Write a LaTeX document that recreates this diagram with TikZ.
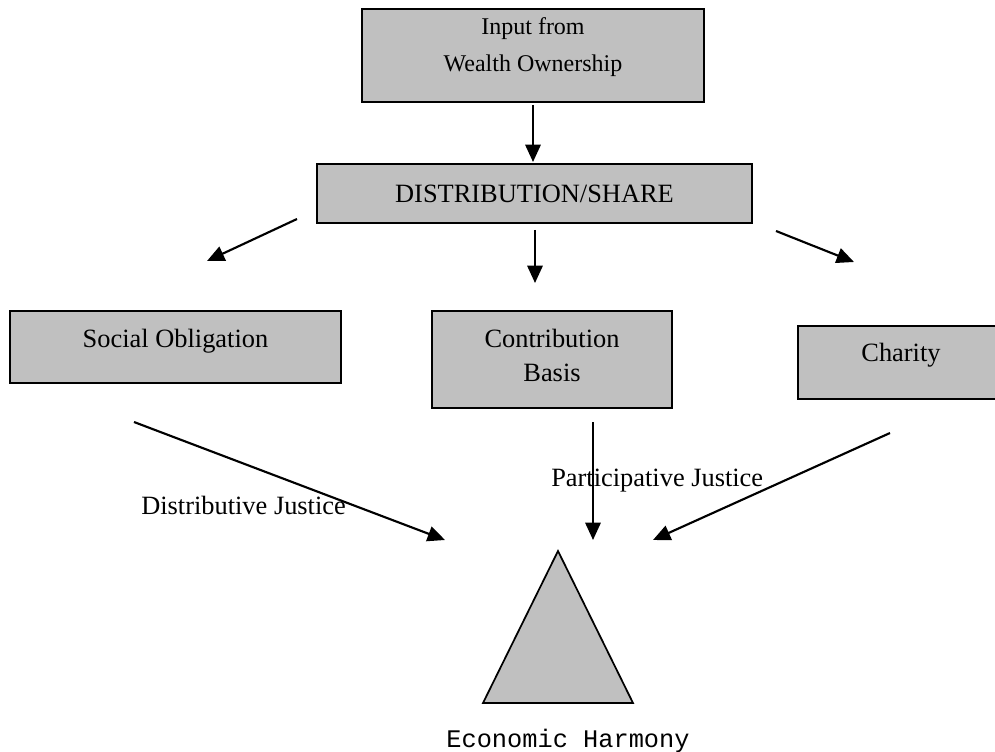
\documentclass[tikz,border=0pt]{standalone}
\usepackage{fontspec}
\setmainfont{Liberation Serif}
\newfontfamily\harmonyfont{Liberation Mono}
\usetikzlibrary{arrows.meta}
\definecolor{boxgray}{RGB}{192,192,192}
\newcommand\mainsz{\fontsize{19.8pt}{25.5pt}\selectfont}
\newcommand\topsz{\fontsize{18pt}{27.75pt}\selectfont}
\newcommand\harmsz{\harmonyfont\fontsize{19pt}{22pt}\selectfont}
\begin{document}
\begin{tikzpicture}[x=0.75pt,y=-0.75pt,
  box/.style={draw=black, line width=1.5pt, fill=boxgray, inner sep=0pt,
    font=\mainsz, align=center},
  arr/.style={-{Triangle[length=13pt,width=11.5pt]}, line width=1.6pt},
  caption/.style={font=\mainsz, anchor=base west, inner sep=0pt}]
\clip (0,0) rectangle (995,752);

% boxes
\node[box, font=\topsz, minimum width=256.5pt, minimum height=69.75pt] (input)
  at (533,55.5) {Input from\\Wealth Ownership\rule[-17pt]{0pt}{17pt}};
\node[box, minimum width=326.25pt, minimum height=44.25pt] (dist)
  at (534.5,193.5) {DISTRIBUTION/SHARE};
\node[box, minimum width=248.25pt, minimum height=54pt,
  text height=15pt, text depth=14pt] (social) at (175.5,347) {Social Obligation};
\node[box, minimum width=180pt, minimum height=72.75pt] (contrib)
  at (552,359.5) {Contribution\\Basis\rule[-5.85pt]{0pt}{5.85pt}};
\node[box, minimum width=154.5pt, minimum height=54.75pt,
  text height=14pt, text depth=15.2pt] (charity) at (901,362.5) {Charity};

% arrow end points
\coordinate (a1s) at (533,105);  \coordinate (a1e) at (533,162);
\coordinate (a2s) at (297,219);  \coordinate (a2e) at (207,261);
\coordinate (a3s) at (535,230);  \coordinate (a3e) at (535,283);
\coordinate (a4s) at (776,231);  \coordinate (a4e) at (854,262);
\coordinate (b1s) at (134,422);  \coordinate (b1e) at (445,540);
\coordinate (b2s) at (593,422);  \coordinate (b2e) at (593,540);
\coordinate (b3s) at (890,433);  \coordinate (b3e) at (653,540);

\draw[arr] (a1s) -- (a1e);
\draw[arr] (a2s) -- (a2e);
\draw[arr] (a3s) -- (a3e);
\draw[arr] (a4s) -- (a4e);
\draw[arr] (b1s) -- (b1e);
\draw[arr] (b2s) -- (b2e);
\draw[arr] (b3s) -- (b3e);

% justice labels
\node[caption] (dj) at (141,514.7) {Distributive Justice};
\node[caption] (pj) at (551,486) {Participative Justice};

% the harmony triangle
\coordinate (apex) at (558,551);
\coordinate (baseL) at (483,703);
\coordinate (baseR) at (633,703);
\draw[fill=boxgray, line width=1.3pt, line join=miter] (apex) -- (baseR) -- (baseL) -- cycle;
\node[font=\harmsz, anchor=base, inner sep=0pt] (harmony) at (568,747.5) {Economic Harmony};
\end{tikzpicture}
\end{document}
